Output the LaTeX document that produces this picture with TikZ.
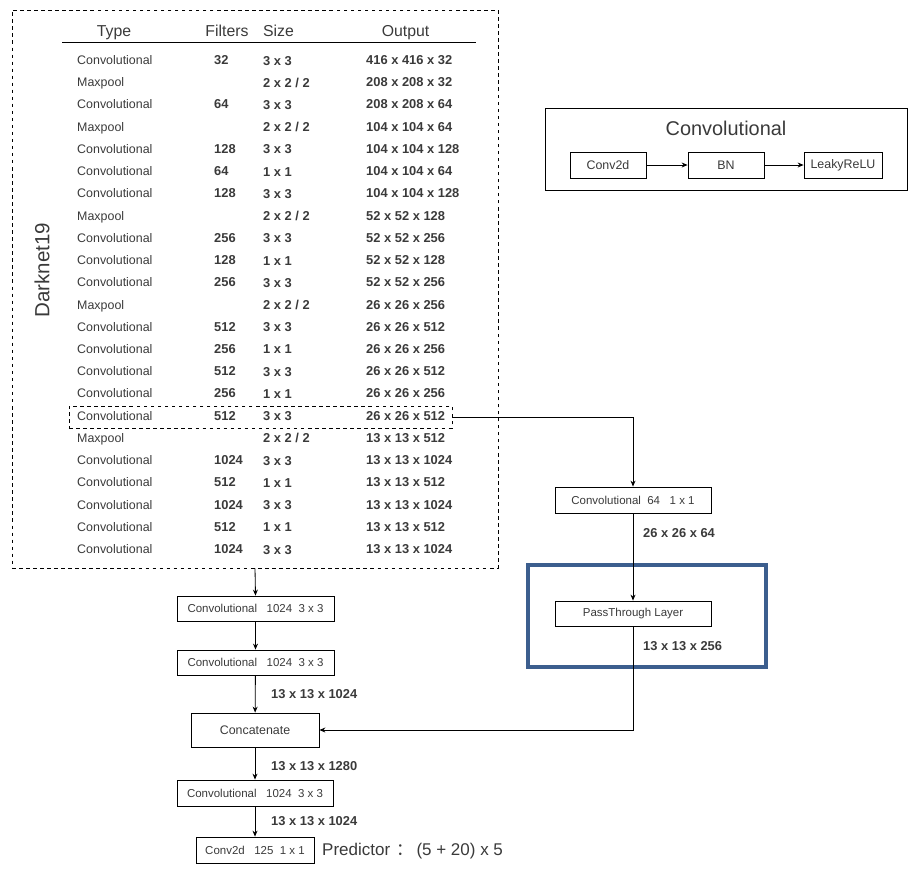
\documentclass[tikz,border=0pt]{standalone}
\usepackage{fontspec}
\setmainfont{Liberation Sans}
\newfontfamily\cjk{Noto Sans CJK SC}
\usetikzlibrary{arrows.meta}
\definecolor{schrift}{HTML}{3A3A3A}
\definecolor{blau}{HTML}{3C5E8E}
\newcommand\pool{2 x 2 / 2}
\tikzset{
  pfeil/.style={-{Stealth[length=1.8mm,width=1.5mm]},black,line width=0.7pt},
  kasten/.style={draw=black,line width=0.7pt,inner sep=0pt,text=schrift,
    font=\fontsize{9.8}{12}\selectfont},
  rahmen/.style={draw=black,dashed,line width=0.5pt,inner sep=0pt},
  zelle/.style={anchor=base west,inner sep=0pt,text=schrift,font=\fontsize{10.6}{12}\selectfont},
  zahl/.style={anchor=base west,inner sep=0pt,text=schrift,font=\fontsize{11}{13}\selectfont\bfseries},
  kopf/.style={inner sep=0pt,text=schrift,font=\fontsize{13.5}{16}\selectfont},
}

\begin{document}
\begin{tikzpicture}[x=0.3mm,y=-0.3mm]
  \useasboundingbox (0,0) rectangle (915,877);
  % Darknet19 Tabelle
  \node[rahmen,minimum width=145.8mm,minimum height=167.4mm] (darknet) at (255,289) {};
  \node[kopf,font=\fontsize{17.5}{20}\selectfont,rotate=90] (dname) at (42,270) {Darknet19};
  \node[kopf,anchor=base] (ktyp) at (114,36.5) {Type};
  \node[kopf,anchor=base] (kfil) at (227,36.5) {Filters};
  \node[kopf,anchor=base] (kgr) at (278.5,36.5) {Size};
  \node[kopf,anchor=base] (kaus) at (405.5,36.5) {Output};
  \draw[black,line width=0.6pt] (62,42)--(476,42);
  \foreach \typ/\fil/\gr/\aus [count=\i] in {
      Convolutional/32/3 x 3/416 x 416 x 32,
      Maxpool//\pool/208 x 208 x 32,
      Convolutional/64/3 x 3/208 x 208 x 64,
      Maxpool//\pool/104 x 104 x 64,
      Convolutional/128/3 x 3/104 x 104 x 128,
      Convolutional/64/1 x 1/104 x 104 x 64,
      Convolutional/128/3 x 3/104 x 104 x 128,
      Maxpool//\pool/52 x 52 x 128,
      Convolutional/256/3 x 3/52 x 52 x 256,
      Convolutional/128/1 x 1/52 x 52 x 128,
      Convolutional/256/3 x 3/52 x 52 x 256,
      Maxpool//\pool/26 x 26 x 256,
      Convolutional/512/3 x 3/26 x 26 x 512,
      Convolutional/256/1 x 1/26 x 26 x 256,
      Convolutional/512/3 x 3/26 x 26 x 512,
      Convolutional/256/1 x 1/26 x 26 x 256,
      Convolutional/512/3 x 3/26 x 26 x 512,
      Maxpool//\pool/13 x 13 x 512,
      Convolutional/1024/3 x 3/13 x 13 x 1024,
      Convolutional/512/1 x 1/13 x 13 x 512,
      Convolutional/1024/3 x 3/13 x 13 x 1024,
      Convolutional/512/1 x 1/13 x 13 x 512,
      Convolutional/1024/3 x 3/13 x 13 x 1024}
  {
    \node[zelle] (typ\i) at (77,{64.5+(\i-1)*22.23}) {\typ};
    \node[zahl] (fil\i) at (214,{64.5+(\i-1)*22.23}) {\fil};
    \node[zahl] (gr\i) at (263,{65+(\i-1)*22.23}) {\gr};
    \node[zahl] (aus\i) at (366,{64.5+(\i-1)*22.23}) {\aus};
  }
  \node[rahmen,minimum width=114.9mm,minimum height=6.6mm] (auswahl) at (260.5,417) {};

  % Convolutional Block
  \node[kasten,minimum width=108.6mm,minimum height=24.6mm] (faltung) at (726,149) {};
  \node[kopf,font=\fontsize{17}{20}\selectfont] (ftitel) at (726,128) {Convolutional};
  \node[kasten,font=\fontsize{10.6}{12}\selectfont,minimum width=22.8mm,minimum height=7.8mm] (conv2d) at (608,165) {Conv2d};
  \node[kasten,font=\fontsize{10.6}{12}\selectfont,minimum width=22.8mm,minimum height=7.8mm] (bn) at (726,165) {BN};
  \node[kasten,font=\fontsize{10.6}{12}\selectfont,minimum width=23.4mm,minimum height=7.8mm] (leaky) at (843,165) {LeakyReLU};
  \draw[pfeil] (conv2d) -- (bn);
  \draw[pfeil] (bn) -- (leaky);

  % PassThrough Zweig
  \node[kasten,minimum width=46.8mm,minimum height=7.8mm] (c64) at (633,500) {Convolutional\ \ 64\ \ \ 1 x 1};
  \node[zahl] (l64) at (643,537.5) {26 x 26 x 64};
  \node[draw=blau,line width=3pt,minimum width=71.4mm,minimum height=30.6mm] (blaubox) at (647,616) {};
  \node[kasten,minimum width=46.8mm,minimum height=7.5mm] (pass) at (633,613.5) {PassThrough Layer};
  \node[zahl] (l256) at (643,650.5) {13 x 13 x 256};
  \draw[pfeil] (auswahl.east) -| (c64.north);
  \draw[pfeil] (c64) -- (pass);

  % Hauptzweig
  \node[kasten,minimum width=47.1mm,minimum height=7.5mm] (conva) at (255.5,608.5) {Convolutional\ \ \ 1024\ \ 3 x 3};
  \node[kasten,minimum width=47.1mm,minimum height=7.5mm] (convb) at (255.5,662.5) {Convolutional\ \ \ 1024\ \ 3 x 3};
  \node[zahl] (l1024a) at (271,698.5) {13 x 13 x 1024};
  \node[kasten,font=\fontsize{10.6}{12}\selectfont,minimum width=38.4mm,minimum height=10.2mm] (concat) at (255,730) {Concatenate};
  \node[zahl] (l1280) at (271,770.5) {13 x 13 x 1280};
  \node[kasten,minimum width=46.8mm,minimum height=7.8mm] (convc) at (255,793) {Convolutional\ \ \ 1024\ \ 3 x 3};
  \node[zahl] (l1024b) at (271,825.5) {13 x 13 x 1024};
  \node[kasten,minimum width=35.4mm,minimum height=7.8mm] (pred) at (255,850) {Conv2d\ \ \ 125\ \ 1 x 1};
  \node[zelle,anchor=west,font=\fontsize{14.5}{17}\selectfont] (ptext) at (322,851)
    {Predictor\hspace{0.35em}{\cjk ：}\hspace{0.2em}(5 + 20) x 5};
  \draw[pfeil] (darknet.south) -- (conva.north);
  \draw[pfeil] (conva) -- (convb);
  \draw[pfeil] (convb) -- (concat);
  \draw[pfeil] (pass.south) |- (concat.east);
  \draw[pfeil] (concat) -- (convc);
  \draw[pfeil] (convc) -- (pred);
\end{tikzpicture}
\end{document}
